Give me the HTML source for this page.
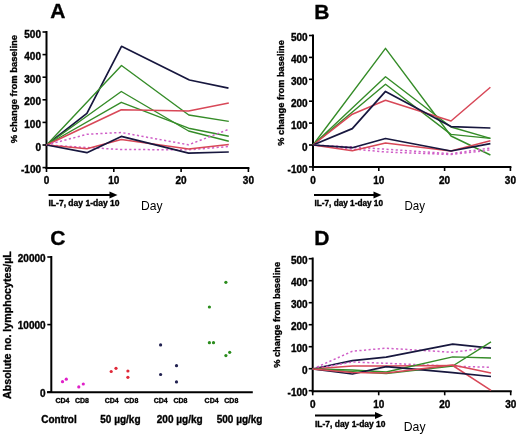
<!DOCTYPE html>
<html><head><meta charset="utf-8"><style>
html,body{margin:0;padding:0;background:#fff;width:520px;height:437px;overflow:hidden;}
svg{display:block;filter:blur(0.3px);}
text{font-family:"Liberation Sans",sans-serif;fill:#000;}
text[font-weight=bold]{stroke:#000;stroke-width:0.35px;}
</style></head><body>
<svg width="520" height="437" viewBox="0 0 520 437">
<rect width="520" height="437" fill="#fff"/>
<line x1="46.5" y1="31" x2="46.5" y2="169" stroke="#000" stroke-width="2"/>
<line x1="45.5" y1="168" x2="249.39999999999998" y2="168" stroke="#000" stroke-width="2"/>
<line x1="42.5" y1="32.0" x2="46.5" y2="32.0" stroke="#000" stroke-width="1.6"/>
<text x="41" y="37.6" font-size="10" font-weight="bold" text-anchor="end">500</text>
<line x1="42.5" y1="54.6" x2="46.5" y2="54.6" stroke="#000" stroke-width="1.6"/>
<text x="41" y="60.2" font-size="10" font-weight="bold" text-anchor="end">400</text>
<line x1="42.5" y1="77.2" x2="46.5" y2="77.2" stroke="#000" stroke-width="1.6"/>
<text x="41" y="82.8" font-size="10" font-weight="bold" text-anchor="end">300</text>
<line x1="42.5" y1="99.8" x2="46.5" y2="99.8" stroke="#000" stroke-width="1.6"/>
<text x="41" y="105.4" font-size="10" font-weight="bold" text-anchor="end">200</text>
<line x1="42.5" y1="122.4" x2="46.5" y2="122.4" stroke="#000" stroke-width="1.6"/>
<text x="41" y="128.0" font-size="10" font-weight="bold" text-anchor="end">100</text>
<line x1="42.5" y1="145.0" x2="46.5" y2="145.0" stroke="#000" stroke-width="1.6"/>
<text x="41" y="150.6" font-size="10" font-weight="bold" text-anchor="end">0</text>
<line x1="42.5" y1="167.6" x2="46.5" y2="167.6" stroke="#000" stroke-width="1.6"/>
<text x="41" y="173.2" font-size="10" font-weight="bold" text-anchor="end">-100</text>
<line x1="46.5" y1="168" x2="46.5" y2="172" stroke="#000" stroke-width="1.6"/>
<text x="46.5" y="184.3" font-size="10" font-weight="bold" text-anchor="middle">0</text>
<line x1="113.8" y1="168" x2="113.8" y2="172" stroke="#000" stroke-width="1.6"/>
<text x="113.8" y="184.3" font-size="10" font-weight="bold" text-anchor="middle">10</text>
<line x1="181.1" y1="168" x2="181.1" y2="172" stroke="#000" stroke-width="1.6"/>
<text x="181.1" y="184.3" font-size="10" font-weight="bold" text-anchor="middle">20</text>
<line x1="248.4" y1="168" x2="248.4" y2="172" stroke="#000" stroke-width="1.6"/>
<text x="248.4" y="184.3" font-size="10" font-weight="bold" text-anchor="middle">30</text>
<text transform="translate(17.0,89.1) rotate(-90)" x="0" y="0" font-size="9.8" font-weight="bold" text-anchor="middle" textLength="108.3" lengthAdjust="spacingAndGlyphs">% change from baseline</text>
<text x="50.3" y="18.1" font-size="21" font-weight="bold" text-anchor="start">A</text>
<line x1="48.5" y1="195" x2="111.5" y2="195" stroke="#000" stroke-width="2.2"/>
<polygon points="109.5,191.5 117.5,195 109.5,198.5" fill="#000"/>
<text x="48.5" y="205.5" font-size="8.2" font-weight="bold" text-anchor="start" textLength="71" lengthAdjust="spacingAndGlyphs">IL-7, day 1-day 10</text>
<text x="141" y="210" font-size="13" font-weight="normal" text-anchor="start" textLength="21.5" lengthAdjust="spacingAndGlyphs">Day</text>
<line x1="313" y1="34.5" x2="313" y2="168" stroke="#000" stroke-width="2"/>
<line x1="312" y1="167" x2="511.4" y2="167" stroke="#000" stroke-width="2"/>
<line x1="309" y1="35.5" x2="313" y2="35.5" stroke="#000" stroke-width="1.6"/>
<text x="307.6" y="41.1" font-size="10" font-weight="bold" text-anchor="end">500</text>
<line x1="309" y1="57.4" x2="313" y2="57.4" stroke="#000" stroke-width="1.6"/>
<text x="307.6" y="63.0" font-size="10" font-weight="bold" text-anchor="end">400</text>
<line x1="309" y1="79.3" x2="313" y2="79.3" stroke="#000" stroke-width="1.6"/>
<text x="307.6" y="84.9" font-size="10" font-weight="bold" text-anchor="end">300</text>
<line x1="309" y1="101.2" x2="313" y2="101.2" stroke="#000" stroke-width="1.6"/>
<text x="307.6" y="106.8" font-size="10" font-weight="bold" text-anchor="end">200</text>
<line x1="309" y1="123.1" x2="313" y2="123.1" stroke="#000" stroke-width="1.6"/>
<text x="307.6" y="128.7" font-size="10" font-weight="bold" text-anchor="end">100</text>
<line x1="309" y1="145.0" x2="313" y2="145.0" stroke="#000" stroke-width="1.6"/>
<text x="307.6" y="150.6" font-size="10" font-weight="bold" text-anchor="end">0</text>
<line x1="309" y1="166.9" x2="313" y2="166.9" stroke="#000" stroke-width="1.6"/>
<text x="307.6" y="172.5" font-size="10" font-weight="bold" text-anchor="end">-100</text>
<line x1="313.0" y1="167" x2="313.0" y2="171" stroke="#000" stroke-width="1.6"/>
<text x="313.0" y="183.5" font-size="10" font-weight="bold" text-anchor="middle">0</text>
<line x1="378.8" y1="167" x2="378.8" y2="171" stroke="#000" stroke-width="1.6"/>
<text x="378.8" y="183.5" font-size="10" font-weight="bold" text-anchor="middle">10</text>
<line x1="444.6" y1="167" x2="444.6" y2="171" stroke="#000" stroke-width="1.6"/>
<text x="444.6" y="183.5" font-size="10" font-weight="bold" text-anchor="middle">20</text>
<line x1="510.4" y1="167" x2="510.4" y2="171" stroke="#000" stroke-width="1.6"/>
<text x="510.4" y="183.5" font-size="10" font-weight="bold" text-anchor="middle">30</text>
<text transform="translate(283.5,92.95) rotate(-90)" x="0" y="0" font-size="9.8" font-weight="bold" text-anchor="middle" textLength="105.4" lengthAdjust="spacingAndGlyphs">% change from baseline</text>
<text x="314.2" y="19" font-size="21" font-weight="bold" text-anchor="start">B</text>
<line x1="314" y1="195" x2="375.5" y2="195" stroke="#000" stroke-width="2.2"/>
<polygon points="373.5,191.5 381.5,195 373.5,198.5" fill="#000"/>
<text x="314.5" y="205.5" font-size="8.2" font-weight="bold" text-anchor="start" textLength="68.5" lengthAdjust="spacingAndGlyphs">IL-7, day 1-day 10</text>
<text x="404.5" y="210" font-size="13" font-weight="normal" text-anchor="start" textLength="20.5" lengthAdjust="spacingAndGlyphs">Day</text>
<line x1="312.7" y1="257.5" x2="312.7" y2="392.3" stroke="#000" stroke-width="2"/>
<line x1="311.7" y1="391.3" x2="511.7" y2="391.3" stroke="#000" stroke-width="2"/>
<line x1="308.7" y1="258.7" x2="312.7" y2="258.7" stroke="#000" stroke-width="1.6"/>
<text x="307.6" y="264.3" font-size="10" font-weight="bold" text-anchor="end">500</text>
<line x1="308.7" y1="280.7" x2="312.7" y2="280.7" stroke="#000" stroke-width="1.6"/>
<text x="307.6" y="286.3" font-size="10" font-weight="bold" text-anchor="end">400</text>
<line x1="308.7" y1="302.7" x2="312.7" y2="302.7" stroke="#000" stroke-width="1.6"/>
<text x="307.6" y="308.3" font-size="10" font-weight="bold" text-anchor="end">300</text>
<line x1="308.7" y1="324.7" x2="312.7" y2="324.7" stroke="#000" stroke-width="1.6"/>
<text x="307.6" y="330.3" font-size="10" font-weight="bold" text-anchor="end">200</text>
<line x1="308.7" y1="346.7" x2="312.7" y2="346.7" stroke="#000" stroke-width="1.6"/>
<text x="307.6" y="352.3" font-size="10" font-weight="bold" text-anchor="end">100</text>
<line x1="308.7" y1="368.7" x2="312.7" y2="368.7" stroke="#000" stroke-width="1.6"/>
<text x="307.6" y="374.3" font-size="10" font-weight="bold" text-anchor="end">0</text>
<line x1="308.7" y1="390.7" x2="312.7" y2="390.7" stroke="#000" stroke-width="1.6"/>
<text x="307.6" y="396.3" font-size="10" font-weight="bold" text-anchor="end">-100</text>
<line x1="312.7" y1="391.3" x2="312.7" y2="395.3" stroke="#000" stroke-width="1.6"/>
<text x="312.7" y="407.5" font-size="10" font-weight="bold" text-anchor="middle">0</text>
<line x1="378.7" y1="391.3" x2="378.7" y2="395.3" stroke="#000" stroke-width="1.6"/>
<text x="378.7" y="407.5" font-size="10" font-weight="bold" text-anchor="middle">10</text>
<line x1="444.7" y1="391.3" x2="444.7" y2="395.3" stroke="#000" stroke-width="1.6"/>
<text x="444.7" y="407.5" font-size="10" font-weight="bold" text-anchor="middle">20</text>
<line x1="510.7" y1="391.3" x2="510.7" y2="395.3" stroke="#000" stroke-width="1.6"/>
<text x="510.7" y="407.5" font-size="10" font-weight="bold" text-anchor="middle">30</text>
<text transform="translate(280.2,314.9) rotate(-90)" x="0" y="0" font-size="9.8" font-weight="bold" text-anchor="middle" textLength="105.9" lengthAdjust="spacingAndGlyphs">% change from baseline</text>
<text x="314.2" y="245.2" font-size="21" font-weight="bold" text-anchor="start">D</text>
<line x1="315" y1="415.5" x2="377" y2="415.5" stroke="#000" stroke-width="2.2"/>
<polygon points="375,412.0 383,415.5 375,419.0" fill="#000"/>
<text x="315" y="426.8" font-size="8.2" font-weight="bold" text-anchor="start" textLength="70.5" lengthAdjust="spacingAndGlyphs">IL-7, day 1-day 10</text>
<text x="403.8" y="431.3" font-size="13" font-weight="normal" text-anchor="start" textLength="21.7" lengthAdjust="spacingAndGlyphs">Day</text>
<polyline points="46.6,145 86.9,113.4 121.5,46.3 189.4,80 228.5,88.2" fill="none" stroke="#17173e" stroke-width="1.7" stroke-linejoin="round"/>
<polyline points="46.6,145 121.5,65.5 188.8,115 228.8,121.4" fill="none" stroke="#358c28" stroke-width="1.4" stroke-linejoin="round"/>
<polyline points="46.6,145 121.3,91.5 188.6,131 228.8,141.2" fill="none" stroke="#358c28" stroke-width="1.4" stroke-linejoin="round"/>
<polyline points="46.6,145 121.3,102.3 188.6,128.2 228.8,136.2" fill="none" stroke="#358c28" stroke-width="1.4" stroke-linejoin="round"/>
<polyline points="46.6,145 121.3,109.8 188.6,111.1 228.8,103" fill="none" stroke="#d84858" stroke-width="1.5" stroke-linejoin="round"/>
<polyline points="46.6,145 86.9,134.3 121.3,132.5 188.6,144.8 228.8,129.3" fill="none" stroke="#d060c8" stroke-width="1.5" stroke-linejoin="round" stroke-dasharray="2.2,2.4"/>
<polyline points="46.6,145 86.9,147.5 121.3,149.5 188.6,149.8 228.8,146.5" fill="none" stroke="#d060c8" stroke-width="1.5" stroke-linejoin="round" stroke-dasharray="2.2,2.4"/>
<polyline points="46.6,145 86.9,148.8 121.3,139.5 188.6,149 228.8,144.5" fill="none" stroke="#d84858" stroke-width="1.5" stroke-linejoin="round"/>
<polyline points="46.6,145 86.9,152.7 121.3,136.4 188.6,153.1 228.8,152" fill="none" stroke="#17173e" stroke-width="1.7" stroke-linejoin="round"/>
<polyline points="313,145 385.5,48.3 451,136 490.4,155" fill="none" stroke="#358c28" stroke-width="1.4" stroke-linejoin="round"/>
<polyline points="313,145 385.5,76.8 451,127 490.4,138.4" fill="none" stroke="#358c28" stroke-width="1.4" stroke-linejoin="round"/>
<polyline points="313,145 385.5,84.3 451,134.4 490.4,138.4" fill="none" stroke="#358c28" stroke-width="1.4" stroke-linejoin="round"/>
<polyline points="313,145 352.3,114.2 385.5,100.3 451,121 490.4,87.2" fill="none" stroke="#d84858" stroke-width="1.5" stroke-linejoin="round"/>
<polyline points="313,145 352.3,128.6 385.5,91.4 451,126.6 490.4,128" fill="none" stroke="#17173e" stroke-width="1.7" stroke-linejoin="round"/>
<polyline points="313,145 352.3,147 385.5,149.2 451,153.7 490.4,148" fill="none" stroke="#d060c8" stroke-width="1.5" stroke-linejoin="round" stroke-dasharray="2.2,2.4"/>
<polyline points="313,145 352.3,149 385.5,152 451,154.5 490.4,150" fill="none" stroke="#d060c8" stroke-width="1.5" stroke-linejoin="round" stroke-dasharray="2.2,2.4"/>
<polyline points="313,145 352.3,150.8 385.5,143 451,151 490.4,140.8" fill="none" stroke="#d84858" stroke-width="1.5" stroke-linejoin="round"/>
<polyline points="313,145 352.3,147.7 385.5,138.5 451,151 490.4,143.6" fill="none" stroke="#17173e" stroke-width="1.7" stroke-linejoin="round"/>
<polyline points="312.6,369 352.4,351.2 386.2,348.2 452.7,352.3 491,347.2" fill="none" stroke="#d060c8" stroke-width="1.5" stroke-linejoin="round" stroke-dasharray="2.2,2.4"/>
<polyline points="312.6,369 352.4,360.7 386.2,357.2 452.7,344.2 491,348.2" fill="none" stroke="#17173e" stroke-width="1.7" stroke-linejoin="round"/>
<polyline points="312.6,369 352.4,362 386.2,363.3 452.7,366.2 491,367.3" fill="none" stroke="#d060c8" stroke-width="1.5" stroke-linejoin="round" stroke-dasharray="2.2,2.4"/>
<polyline points="312.6,369 352.4,365.9 386.2,366 452.7,365.5 491,390.4" fill="none" stroke="#d84858" stroke-width="1.5" stroke-linejoin="round"/>
<polyline points="312.6,369 352.4,371.6 386.2,373.6 452.7,366 491,341.9" fill="none" stroke="#358c28" stroke-width="1.4" stroke-linejoin="round"/>
<polyline points="312.6,369 352.4,370 386.2,372 452.7,356.9 491,358" fill="none" stroke="#358c28" stroke-width="1.4" stroke-linejoin="round"/>
<polyline points="312.6,369 352.4,374 386.2,366.7 452.7,372.6 491,376.5" fill="none" stroke="#17173e" stroke-width="1.7" stroke-linejoin="round"/>
<polyline points="312.6,369 352.4,372.5 386.2,373 452.7,365 491,373" fill="none" stroke="#d84858" stroke-width="1.5" stroke-linejoin="round"/>
<line x1="51.3" y1="256" x2="51.3" y2="393" stroke="#000" stroke-width="2"/>
<line x1="47" y1="392.2" x2="252.8" y2="392.2" stroke="#000" stroke-width="2"/>
<line x1="47.3" y1="257" x2="51.3" y2="257" stroke="#000" stroke-width="1.6"/>
<text x="45.6" y="261.8" font-size="10" font-weight="bold" text-anchor="end">20000</text>
<line x1="47.3" y1="324.6" x2="51.3" y2="324.6" stroke="#000" stroke-width="1.6"/>
<text x="45.6" y="329.4" font-size="10" font-weight="bold" text-anchor="end">10000</text>
<line x1="47.3" y1="392" x2="51.3" y2="392" stroke="#000" stroke-width="1.6"/>
<text x="45.6" y="396.8" font-size="10" font-weight="bold" text-anchor="end">0</text>
<text transform="translate(10.9,325.05) rotate(-90)" x="0" y="0" font-size="10.5" font-weight="bold" text-anchor="middle" textLength="147.8" lengthAdjust="spacingAndGlyphs">Absolute no. lymphocytes/µL</text>
<text x="50.3" y="245.4" font-size="21" font-weight="bold" text-anchor="start">C</text>
<text x="55.5" y="402.7" font-size="7.3" font-weight="bold" text-anchor="start" textLength="14" lengthAdjust="spacingAndGlyphs">CD4</text>
<text x="75" y="402.7" font-size="7.3" font-weight="bold" text-anchor="start" textLength="14" lengthAdjust="spacingAndGlyphs">CD8</text>
<text x="104.7" y="402.7" font-size="7.3" font-weight="bold" text-anchor="start" textLength="14" lengthAdjust="spacingAndGlyphs">CD4</text>
<text x="124.3" y="402.7" font-size="7.3" font-weight="bold" text-anchor="start" textLength="14" lengthAdjust="spacingAndGlyphs">CD8</text>
<text x="153.7" y="402.7" font-size="7.3" font-weight="bold" text-anchor="start" textLength="14" lengthAdjust="spacingAndGlyphs">CD4</text>
<text x="173.4" y="402.7" font-size="7.3" font-weight="bold" text-anchor="start" textLength="14" lengthAdjust="spacingAndGlyphs">CD8</text>
<text x="204.6" y="402.7" font-size="7.3" font-weight="bold" text-anchor="start" textLength="14" lengthAdjust="spacingAndGlyphs">CD4</text>
<text x="224.3" y="402.7" font-size="7.3" font-weight="bold" text-anchor="start" textLength="14" lengthAdjust="spacingAndGlyphs">CD8</text>
<text x="41.2" y="422.6" font-size="10" font-weight="bold" text-anchor="start">Control</text>
<text x="100.3" y="422.6" font-size="10" font-weight="bold" text-anchor="start">50 µg/kg</text>
<text x="156.8" y="422.6" font-size="10" font-weight="bold" text-anchor="start">200 µg/kg</text>
<text x="216.7" y="422.6" font-size="10" font-weight="bold" text-anchor="start">500 µg/kg</text>
<circle cx="62.5" cy="381.7" r="1.6" fill="#e020c8"/>
<circle cx="66.3" cy="379.2" r="1.6" fill="#e020c8"/>
<circle cx="78.8" cy="386.9" r="1.6" fill="#e020c8"/>
<circle cx="83.3" cy="384" r="1.6" fill="#e020c8"/>
<circle cx="111.2" cy="371.5" r="1.6" fill="#e02838"/>
<circle cx="116" cy="368.3" r="1.6" fill="#e02838"/>
<circle cx="127.9" cy="371" r="1.6" fill="#e02838"/>
<circle cx="127.9" cy="377.3" r="1.6" fill="#e02838"/>
<circle cx="160.6" cy="344.9" r="1.6" fill="#202050"/>
<circle cx="160.6" cy="374.5" r="1.6" fill="#202050"/>
<circle cx="176.5" cy="365.7" r="1.6" fill="#202050"/>
<circle cx="176.5" cy="381.9" r="1.6" fill="#202050"/>
<circle cx="209.4" cy="307" r="1.6" fill="#2a8c1c"/>
<circle cx="209.4" cy="342.7" r="1.6" fill="#2a8c1c"/>
<circle cx="213.5" cy="342.7" r="1.6" fill="#2a8c1c"/>
<circle cx="225.9" cy="282.3" r="1.6" fill="#2a8c1c"/>
<circle cx="225.9" cy="355.6" r="1.6" fill="#2a8c1c"/>
<circle cx="229.7" cy="352.3" r="1.6" fill="#2a8c1c"/>
</svg>
</body></html>
